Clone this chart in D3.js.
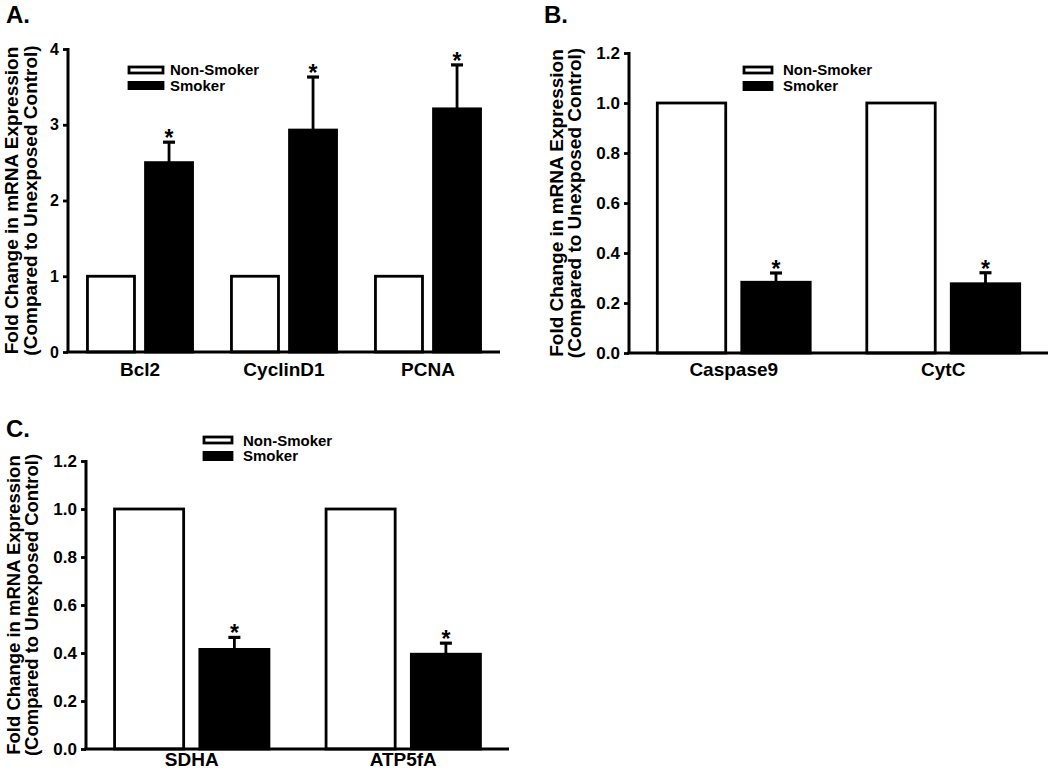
<!DOCTYPE html>
<html>
<head>
<meta charset="utf-8">
<script src="https://cdn.jsdelivr.net/npm/d3@7/dist/d3.min.js"></script>
<style>
  html, body { margin: 0; padding: 0; background: #fff; }
  svg { display: block; }
  text { font-family: "Liberation Sans", Arial, Helvetica, sans-serif; font-weight: bold; fill: #000; }
</style>
</head>
<body>
<svg id="chart" width="1050" height="771"></svg>
<script>
// ---------- DATA ----------
const seriesNames = ["Non-Smoker", "Smoker"];

const categoriesA = ["Bcl2", "CyclinD1", "PCNA"];
const nonSmokerA = [1, 1, 1];
const smokerA = [2.50, 2.93, 3.21];
const smokerErrA = [0.27, 0.70, 0.58];
const ticksA = [0, 1, 2, 3, 4];

const categoriesB = ["Caspase9", "CytC"];
const nonSmokerB = [1, 1];
const smokerB = [0.283, 0.277];
const smokerErrB = [0.037, 0.044];
const ticksB = [0, 0.2, 0.4, 0.6, 0.8, 1.0, 1.2];

const categoriesC = ["SDHA", "ATP5fA"];
const nonSmokerC = [1, 1];
const smokerC = [0.415, 0.395];
const smokerErrC = [0.050, 0.046];
const ticksC = [0, 0.2, 0.4, 0.6, 0.8, 1.0, 1.2];

const yTitle1 = "Fold Change in mRNA Expression";
const yTitle2 = "(Compared to Unexposed Control)";

// ---------- LAYOUT ----------
const svg = d3.select("#chart");

const panels = [
  {
    label: "A.", labelX: 6, labelY: 23,
    cats: categoriesA, non: nonSmokerA, smk: smokerA, err: smokerErrA,
    ticks: ticksA, fmt: d3.format("d"), yMax: 4,
    x0: 68, x1: 500, yTop: 49, yBot: 352,
    tickFont: 16, catFont: 19, catBaseline: 376,
    yt1: 18, yt2: 37, ytFont: 19,
    leg: { bx: 129, bw: 34, y1: 67, y2: 82, bh1: 6, bh2: 8, tx: 170, t1: 75, t2: 91 }
  },
  {
    label: "B.", labelX: 544, labelY: 23,
    cats: categoriesB, non: nonSmokerB, smk: smokerB, err: smokerErrB,
    ticks: ticksB, fmt: d3.format(".1f"), yMax: 1.2,
    x0: 629, x1: 1048, yTop: 53, yBot: 353,
    tickFont: 17, catFont: 19, catBaseline: 376,
    yt1: 563, yt2: 581, ytFont: 19,
    leg: { bx: 744, bw: 28, y1: 67, y2: 82, bh1: 6, bh2: 9, tx: 783, t1: 75, t2: 91 }
  },
  {
    label: "C.", labelX: 6, labelY: 437,
    cats: categoriesC, non: nonSmokerC, smk: smokerC, err: smokerErrC,
    ticks: ticksC, fmt: d3.format(".1f"), yMax: 1.2,
    x0: 86, x1: 509, yTop: 461, yBot: 749,
    tickFont: 17, catFont: 19, catBaseline: 766,
    yt1: 20, yt2: 38, ytFont: 18.5,
    leg: { bx: 204, bw: 28, y1: 437, y2: 452, bh1: 6, bh2: 9, tx: 243, t1: 446, t2: 461 }
  }
];

panels.forEach(p => {
  const g = svg.append("g");

  const x = d3.scaleBand().domain(p.cats).range([p.x0, p.x1]).paddingInner(0).paddingOuter(0);
  const xs = d3.scaleBand().domain(seriesNames).range([0, x.bandwidth()])
    .paddingInner(0.19).paddingOuter(0.335);
  const y = d3.scaleLinear().domain([0, p.yMax]).range([p.yBot, p.yTop]);

  // panel label
  g.append("text").attr("x", p.labelX).attr("y", p.labelY)
    .style("font-size", "24px").text(p.label);

  const rows = p.cats.map((c, i) => ({ cat: c, non: p.non[i], smk: p.smk[i], err: p.err[i] }));

  rows.forEach(r => {
    g.append("rect")
      .attr("x", x(r.cat) + xs("Non-Smoker"))
      .attr("y", y(r.non))
      .attr("width", xs.bandwidth())
      .attr("height", y(0) - y(r.non))
      .attr("fill", "#fff").attr("stroke", "#000").attr("stroke-width", 2.8);
    const sx = x(r.cat) + xs("Smoker");
    g.append("rect")
      .attr("x", sx)
      .attr("y", y(r.smk))
      .attr("width", xs.bandwidth())
      .attr("height", y(0) - y(r.smk))
      .attr("fill", "#000").attr("stroke", "#000").attr("stroke-width", 2.8);
    const cx = sx + xs.bandwidth() / 2;
    const ytop = y(r.smk + r.err);
    g.append("line").attr("x1", cx).attr("x2", cx)
      .attr("y1", y(r.smk)).attr("y2", ytop)
      .attr("stroke", "#000").attr("stroke-width", 2.8);
    g.append("line").attr("x1", cx - 6).attr("x2", cx + 6)
      .attr("y1", ytop).attr("y2", ytop)
      .attr("stroke", "#000").attr("stroke-width", 3.2);
    g.append("text").attr("x", cx).attr("y", ytop + 4)
      .attr("text-anchor", "middle").style("font-size", "23px").text("*");
  });

  // y axis
  const yAxis = d3.axisLeft(y).tickValues(p.ticks).tickFormat(p.fmt)
    .tickSize(5).tickSizeOuter(0).tickPadding(4);
  const ya = g.append("g").attr("transform", `translate(${p.x0},0)`).call(yAxis);
  ya.select(".domain").attr("stroke", "#000").attr("stroke-width", 3)
    .attr("d", `M0,${p.yTop - 1}V${p.yBot}`);
  ya.selectAll(".tick line").attr("stroke", "#000").attr("stroke-width", 2.8);
  ya.selectAll(".tick text").style("font-size", p.tickFont + "px")
    .style("font-family", '"Liberation Sans", Arial, sans-serif').style("font-weight", "bold");

  // x axis
  const xAxis = d3.axisBottom(x).tickSize(0).tickSizeOuter(0).tickPadding(0);
  const xa = g.append("g").attr("transform", `translate(0,${p.yBot})`).call(xAxis);
  xa.select(".domain").attr("stroke", "#000").attr("stroke-width", 3)
    .attr("d", `M${p.x0 - 1.5},0H${p.x1}`);
  xa.selectAll(".tick text").attr("dy", null).attr("y", p.catBaseline - p.yBot)
    .style("font-size", p.catFont + "px")
    .style("font-family", '"Liberation Sans", Arial, sans-serif').style("font-weight", "bold");

  // y title (two lines)
  const yc = (p.yTop + p.yBot) / 2;
  [[yTitle1, p.yt1], [yTitle2, p.yt2]].forEach(([t, bx]) => {
    g.append("text")
      .attr("transform", `translate(${bx},${yc}) rotate(-90)`)
      .attr("text-anchor", "middle")
      .style("font-size", p.ytFont + "px").text(t);
  });

  // legend
  const L = p.leg;
  g.append("rect").attr("x", L.bx).attr("y", L.y1).attr("width", L.bw).attr("height", L.bh1)
    .attr("fill", "#fff").attr("stroke", "#000").attr("stroke-width", 2.8);
  g.append("rect").attr("x", L.bx - 1.4).attr("y", L.y2 - 1).attr("width", L.bw + 2.8).attr("height", L.bh2 + 1)
    .attr("fill", "#000");
  g.append("text").attr("x", L.tx).attr("y", L.t1).style("font-size", "15px").text(seriesNames[0]);
  g.append("text").attr("x", L.tx).attr("y", L.t2).style("font-size", "15px").text(seriesNames[1]);
});
</script>
</body>
</html>
